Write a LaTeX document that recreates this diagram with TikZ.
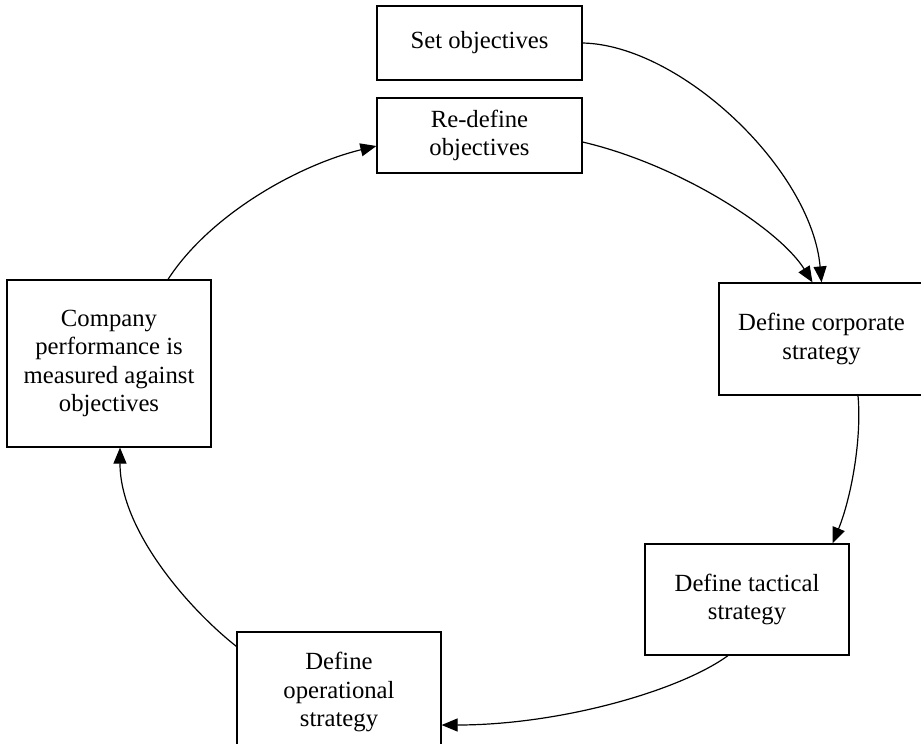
\documentclass[tikz,border=0pt]{standalone}
\usepackage{fontspec}
\setmainfont{Liberation Serif}
\usetikzlibrary{arrows.meta}
\begin{document}
\begin{tikzpicture}[x=1pt,y=-1pt,
  box/.style={draw,line width=1.2pt,inner sep=0pt,minimum width=205pt,align=center,
    font=\fontsize{24.7}{28.4}\selectfont},
  conn/.style={line width=1.2pt,-{Triangle[length=16pt,width=13pt]}}]
\useasboundingbox (0,0) rectangle (921,744);
\clip (0,0) rectangle (921,744);
\node[box,minimum height=74pt] (set) at (479.5,43) {Set objectives};
\node[box,minimum height=75pt] (re) at (479.5,135.5) {Re-define\\objectives};
\node[box,minimum height=112pt] (corp) at (821.5,339) {Define corporate\\strategy};
\node[box,minimum height=111pt,minimum width=204pt] (tact) at (747,599.5) {Define tactical\\strategy};
\node[box,minimum height=120pt,minimum width=204pt] (op) at (339,692) {Define\\operational\\strategy};
\node[box,minimum height=167pt,minimum width=204pt] (comp) at (109,363.5) {Company\\performance is\\measured against\\objectives};
\draw[conn] (set.east) .. controls +(98,2) and +(-10,-113) .. (corp.north);
\draw[conn] ([yshift=-6.5pt]re.east) .. controls +(98,23) and +(-33,-53) .. ([xshift=-9pt]corp.north);
\draw[conn] ([xshift=36.5pt]corp.south) .. controls +(4,45) and +(18,-44) .. ([xshift=-17pt]tact.north east);
\draw[conn] ([xshift=-19pt]tact.south) .. controls +(-48,35) and +(119,0) .. ([yshift=-33pt]op.east);
\draw[conn] ([yshift=-15pt]op.north west) .. controls +(-47,-37) and +(0,83) .. ([xshift=11pt]comp.south);
\draw[conn] ([xshift=59pt]comp.north) .. controls +(42,-65) and +(-78,19) .. ([yshift=-10.5pt]re.west);
\end{tikzpicture}
\end{document}
